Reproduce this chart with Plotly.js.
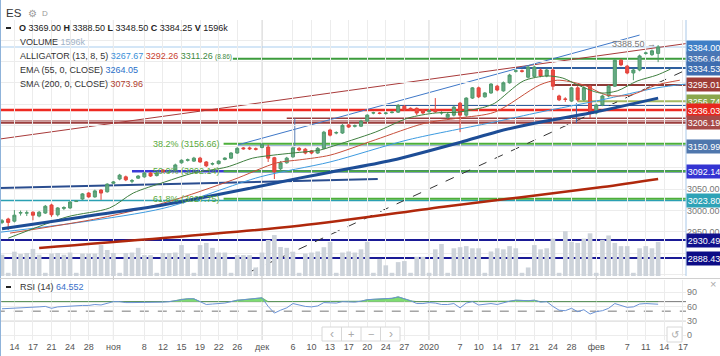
<!DOCTYPE html>
<html><head><meta charset="utf-8">
<script src="https://cdn.plot.ly/plotly-3.0.1.min.js"></script>
<style>html,body{margin:0;padding:0;background:#fff}#chart{width:720px;height:356px}</style>
</head><body><div id="chart"></div>
<script>
// ---------- DATA ----------
const openP  = [2972,2980,2975,2994,2994,2996,2987,2994,3013,2990,3005,3006,3021,3027,3041,3032,3048,3044,3064,3074,3079,3069,3076,3079,3088,3082,3095,3090,3095,3112,3118,3116,3123,3114,3109,3110,3120,3123,3135,3147,3147,3145,3148,3149,3124,3098,3112,3126,3146,3144,3140,3135,3146,3189,3182,3182,3201,3198,3198,3210,3229,3229,3228,3230,3231,3245,3240,3240,3236,3232,3236,3229,3219,3224,3252,3224,3264,3288,3267,3276,3292,3281,3300,3327,3328,3313,3315,3330,3316,3330,3269,3262,3257,3288,3260,3292,3229,3248,3269,3292,3353,3339,3323,3330,3369,3366,3369];
const highP  = [2980,2983,3001,3000,3000,2998,2999,3013,3016,3008,3010,3022,3024,3041,3043,3049,3050,3064,3069,3086,3082,3074,3083,3091,3090,3090,3097,3094,3110,3120,3122,3126,3126,3116,3113,3118,3125,3137,3149,3149,3150,3148,3158,3155,3126,3116,3126,3150,3149,3147,3142,3149,3187,3192,3186,3203,3203,3202,3213,3226,3232,3231,3231,3233,3250,3248,3242,3242,3238,3238,3264,3233,3229,3246,3255,3266,3290,3291,3278,3299,3295,3303,3321,3331,3331,3340,3340,3333,3333,3333,3272,3266,3290,3292,3292,3294,3251,3272,3295,3356,3356,3342,3333,3366,3373,3378,3388.5];
const lowP   = [2968,2954,2972,2988,2987,2977,2984,2992,2985,2986,3001,3004,3020,3025,3030,3030,3025,3042,3062,3071,3069,3064,3074,3077,3079,3080,3088,3087,3093,3110,3115,3114,3112,3102,3106,3108,3118,3121,3133,3143,3142,3141,3146,3114,3074,3093,3110,3124,3139,3132,3132,3133,3144,3174,3179,3180,3194,3195,3196,3208,3226,3226,3225,3228,3229,3233,3234,3224,3226,3230,3229,3225,3216,3221,3184,3220,3262,3264,3265,3274,3280,3279,3298,3324,3324,3310,3312,3313,3313,3283,3257,3255,3255,3256,3257,3217,3226,3245,3266,3290,3339,3320,3306,3327,3366,3363,3348.5];
const closeP = [2976,2972,2989,2995,2994.5,2989,2996,3010,2990,3006,3007,3020,3022,3039,3032,3046,3041,3062,3067,3083,3072,3070,3081,3088,3081,3088,3091,3091,3107,3118,3119,3123,3114,3105,3110,3116,3123,3135,3146,3145,3145,3144,3156,3123,3091,3112,3123,3147,3142,3135,3135,3146,3184,3177,3183,3200,3196,3199,3210,3224,3229.5,3228,3229,3231,3247,3236,3236,3229,3229,3235,3232,3230,3226,3243,3224,3264,3288,3267,3276,3297,3283,3300,3318,3328,3327,3337,3337,3316,3330,3292,3260,3261,3288,3260,3288,3229,3248,3269,3292,3353,3342,3323,3330,3363,3370,3375,3384.25];
const volumeK = [1000,150,1140,1030,1080,1270,1000,150,1050,1080,1000,1100,150,1050,1050,1050,1450,1220,1080,150,1080,1100,1320,980,980,150,1080,1080,1100,1450,1050,150,1450,1550,1320,1100,1100,150,980,980,980,400,1100,1690,1920,1360,1320,1140,150,1050,1100,1150,1350,1600,150,1100,1150,1100,1250,1600,150,800,500,150,650,700,150,900,900,150,1250,1500,150,1300,1350,1400,1300,1300,150,1150,1300,1250,1400,1300,150,400,1450,1250,1300,1750,150,2100,1600,1550,1750,2000,150,1700,1900,1550,1400,1400,150,1300,1400,1300,1596];
const rsi14 = [55,55.5,57,57.5,58,57.5,59,60,56,59,60,61,61,62,62,64,63,67,70,70,68,68,68,69,68,68,69,70,72,75,76,76,70,64,65,66,67,70,73,74,75,76,78,60,46,52,57,66,63,60,59,61,68,67,67,70,69,69,71,74,75,76,76,77,80,76,72,66,66,68,67,64,64,66,57,67,70,63,64,66,64,68,71,73,72,72,73,69,70,60,52,51,56,49,53,44,49,51,56,66,62,58,59,65,66,65,64.55];

// indicator lines (bar index, value) read at knots
const emaIdx = [0,13,26,40,48,53,63,74,80,86,95,106];
const emaVal = [2957,2985,3013,3052,3076,3090,3118,3160,3185,3205,3229,3264];
const smaIdx = [6,48,72,97,106];
const smaVal = [2912,2964,3010,3055,3074];
const lipsIdx = [1,10.5,17.4,21.2,26.3,30.9,36.3,40.5,43.8,47,51.4,53,60.3,65.6,70,73.7,78,79.6,84.2,88,90.6,93,96.6,99.4,102.6,105.8,108];
const lipsVal = [2935,2985,3006,3041,3067,3088,3102,3123,3130,3135,3142,3149,3184,3217,3229,3231,3243,3252,3304,3316,3311,3295,3276,3281,3304,3318,3332];
const teethIdx = [1.3,15.8,26.7,37.3,44.4,48.1,53,60.3,68.3,73.7,79.6,86.9,89.7,93.9,97.7,101.5,105.8,109.5];
const teethVal = [2947,2982,3020,3072,3112,3119,3130,3166,3205,3217,3231,3295,3306,3295,3271,3271,3295,3306];
const jawIdx = [-0.3,12.9,26.3,41.7,53,65.6,79.6,86.9,96.6,105.8,110.5];
const jawVal = [2949,2973,3006,3079,3114,3166,3208,3231,3259,3288,3297];

// x-axis ticks (bar index of each date label)
const tickIdx  = [2,5,8,11,14,18,23,26,29,32,35,38,42,47,50,53,56,59,62,65,69,74,77,80,83,86,89,92,96,101,104,107,110];
const tickText = ['14','17','21','24','28','ноя','8','12','15','19','22','26','дек','6','10','13','17','20','24','27','2020','7','10','14','17','21','24','28','фев','7','11','14','17'];
const monthText = ['ноя','дек','2020','фев'];

// labelled price levels
const levelVals  = [3384.00,3356.64,3334.53,3295.01,3256.74,3236.03,3206.19,3150.99,3092.14,3023.80,2930.49,2888.43];
const levelStart = [-0.3,37.3,83,89,93,-0.3,-0.3,38,21,-0.3,-0.3,-0.3];
// unlabelled drawn levels
const extraVals  = [3248,3216.6,3210.5];
const extraStart = [62,46,-0.3];
// Fibonacci
const fibText = ['38.2% (3156.66)','50.0% (3092.14)','61.8% (3027.75)'];
const fibVals = [3156.66,3092.14,3027.75];
// trend lines [idx0, price0, idx1, price1]
const trendRed   = [-0.3,3168,110.5,3392];
const trendBlue  = [38,3153.8,103,3412];
const trendDash  = [40,2855.6,110.5,3330];
const trendNavy  = [-0.3,3053,60.7,3074];
const vertA = [47.3,3216.6,3146.8];
const vertB = [92.8,3252,3205];

// header values
const hdr = {O:'3369.00',H:'3388.50',L:'3348.50',C:'3384.25',V:'1596k'};
const alligatorVals = ['3267.67','3292.26','3311.26'];
const alligatorSpread = '(8.86)';
const emaLast = '3264.05', smaLast = '3073.96', rsiLast = '64.552', volLast = '1596k';

// ---------- STYLES ----------
const W=720, H=356;
const PX = v => v/W, PY = v => 1 - v/H;
const FONT = 'Liberation Sans, Arial, sans-serif';
const levelLine = [
 ['#a9cdee',1],['#3c9c3c',2],['#2f5f9f',2],['#8e3a36',2],['#a3b860',2],['#ee2a22',2.5],
 ['#9b3e3e',2],['#3f6fb0',1.5],['#3a3ad6',2.5],['#2aa0b3',1.5],['#1a1a96',2],['#1a1a96',2]];
const boxColor = ['#3f7fc6','#4a76b4','#3e6db0','#9e3d38','#8aa64c','#e8271e','#a64a48','#4f77ad','#3434d2','#2ea2b6','#10108c','#0c0c86'];
const extraLine = [['#2f5f9f',2],['#9b3e3e',1.5],['#a85050',1]];

const idx = closeP.map((_,i)=>i);

const traces = [];
traces.push({type:'bar', x:idx, y:volumeK, yaxis:'y3', xaxis:'x', width:0.75,
  marker:{color:'#cdd3da'}, hoverinfo:'skip'});
function line(xs, ys, color, width){
  return {type:'scatter', mode:'lines', x:xs, y:ys, xaxis:'x', yaxis:'y',
    line:{color:color, width:width, shape:'spline', smoothing:0.8}, hoverinfo:'skip'};
}
traces.push(line(smaIdx, smaVal, '#b0280c', 2.5));
traces.push(line(jawIdx, jawVal, '#3d9be0', 1));
traces.push(line(teethIdx, teethVal, '#c8503c', 1));
traces.push(line(lipsIdx, lipsVal, '#3f7f3f', 1));
traces.push(line(emaIdx, emaVal, '#1d4d96', 3));
traces.push({type:'candlestick', x:idx, open:openP, high:highP, low:lowP, close:closeP,
  xaxis:'x', yaxis:'y',
  increasing:{line:{color:'#4f9a6c', width:1}, fillcolor:'#66aa84'},
  decreasing:{line:{color:'#e2433b', width:1}, fillcolor:'#ee4b43'},
  hoverinfo:'skip'});
// RSI
traces.push({type:'scatter', mode:'lines', x:idx, y:rsi14.map(()=>70), xaxis:'x', yaxis:'y2',
  line:{color:'rgba(0,0,0,0)', width:0}, hoverinfo:'skip'});
traces.push({type:'scatter', mode:'lines', x:idx, y:rsi14.map(v=>Math.max(v,70)), xaxis:'x', yaxis:'y2',
  fill:'tonexty', fillcolor:'#7fdc72', line:{color:'#3aa03a', width:0.6}, hoverinfo:'skip'});
traces.push({type:'scatter', mode:'lines', x:idx, y:rsi14, xaxis:'x', yaxis:'y2',
  line:{color:'#6b93d6', width:1}, hoverinfo:'skip'});

const shapes = [];
const ann = [];
function hline(x0, y, color, width, dash, yref){
  shapes.push({type:'line', xref:'x', yref:yref||'y', x0:x0, x1:111, y0:y, y1:y,
    line:{color:color, width:width, dash:dash||'solid'}, layer:'below'});
}
levelVals.forEach((v,i)=>hline(levelStart[i], v, levelLine[i][0], levelLine[i][1]));
extraVals.forEach((v,i)=>hline(extraStart[i], v, extraLine[i][0], extraLine[i][1]));
fibVals.forEach(v=>hline(35.8, v, '#4caf3a', 2));
function seg(a, color, width, dash){
  shapes.push({type:'line', xref:'x', yref:'y', x0:a[0], y0:a[1], x1:a[2], y1:a[3],
    line:{color:color, width:width, dash:dash||'solid'}, layer:'below'});
}
seg(trendRed, '#a83a3a', 1);
seg(trendBlue, '#3f78c8', 1);
seg(trendDash, '#333333', 1, 'dash');
seg(trendNavy, '#2a4d8f', 2);
seg([vertA[0],vertA[1],vertA[0],vertA[2]], '#5b7fb5', 1);
seg([vertB[0],vertB[1],vertB[0],vertB[2]], '#3a6ab0', 1);
// month separators
monthText.forEach(m=>{
  const i = tickIdx[tickText.indexOf(m)];
  shapes.push({type:'line', xref:'x', yref:'paper', x0:i, x1:i, y0:PY(340), y1:PY(20),
    line:{color:'#c4c4c4', width:1}, layer:'below'});
});
// RSI levels
[[70,'solid'],[50,'dash'],[30,'solid']].forEach(l=>{
  shapes.push({type:'line', xref:'x', yref:'y2', x0:-1, x1:111, y0:l[0], y1:l[0],
    line:{color:'#777', width:1, dash:l[1]}, layer:'below'});
});
// frame lines
shapes.push({type:'line', xref:'paper', yref:'paper', x0:PX(0.5), x1:PX(0.5), y0:0, y1:1, line:{color:'#8fb3da', width:1}});
shapes.push({type:'line', xref:'paper', yref:'paper', x0:PX(686), x1:PX(686), y0:PY(276), y1:PY(20), line:{color:'#a9c8e8', width:1}});
shapes.push({type:'line', xref:'paper', yref:'paper', x0:0, x1:1, y0:PY(278.5), y1:PY(278.5), line:{color:'#d0d0d0', width:1}});
// small dashed marker in price column
shapes.push({type:'line', xref:'paper', yref:'y', x0:PX(688), x1:PX(717), y0:3309, y1:3309, line:{color:'#c0504d', width:1, dash:'dash'}});
// nav buttons
shapes.push({type:'rect', xref:'paper', yref:'paper', x0:PX(322), x1:PX(400), y0:PY(341), y1:PY(327), line:{color:'#d8d8d8', width:1}, fillcolor:'#fff'});
[341.5,361,380.5].forEach(x=>shapes.push({type:'line', xref:'paper', yref:'paper', x0:PX(x), x1:PX(x), y0:PY(341), y1:PY(327), line:{color:'#d8d8d8', width:1}}));
shapes.push({type:'rect', xref:'paper', yref:'paper', x0:PX(667), x1:PX(682), y0:PY(342), y1:PY(327), line:{color:'#d8d8d8', width:1}, fillcolor:'#fff'});
// legend dash icons
[28,287].forEach(y=>shapes.push({type:'rect', xref:'paper', yref:'paper', x0:PX(6), x1:PX(11), y0:PY(y+1), y1:PY(y-1), line:{width:0}, fillcolor:'#222'}));

function txt(x, y, text, size, color, anchor, extra){
  ann.push(Object.assign({xref:'paper', yref:'paper', x:PX(x), y:PY(y), text:text, showarrow:false,
    xanchor:anchor||'left', yanchor:'middle', font:{family:FONT, size:size, color:color}}, extra||{}));
}
// price boxes
levelVals.forEach((v,i)=>{
  ann.push({xref:'paper', yref:'y', x:PX(686), y:v, xanchor:'left', yanchor:'middle', showarrow:false,
    text:v.toFixed(2), bgcolor:boxColor[i], width:32, height:11, borderpad:1, align:'center',
    font:{family:FONT, size:9, color:'#fff'}});
});
// fib labels
fibVals.forEach((v,i)=>{
  ann.push({xref:'x', yref:'y', x:35.6, y:v, xanchor:'right', yanchor:'middle', showarrow:false,
    text:fibText[i], font:{family:FONT, size:9, color:'#5aab3c'}});
});
// high marker
ann.push({xref:'x', yref:'y', x:106, y:3391.5, xanchor:'right', yanchor:'middle', showarrow:false,
  text:hdr.H + ' →', font:{family:FONT, size:9, color:'#777'}});
// header
txt(4, 13, 'ES', 11.5, '#333');
txt(26, 13, '⚙', 10, '#999');
txt(40, 14, 'D', 8, '#999');
txt(17, 28, '<b>O</b> '+hdr.O+' <b>H</b> '+hdr.H+' <b>L</b> '+hdr.L+' <b>C</b> '+hdr.C+' <b>V</b> '+hdr.V, 9, '#222');
txt(18, 42, 'VOLUME <span style="color:#9fb3c8">'+volLast+'</span>', 9, '#333');
txt(18, 56, 'ALLIGATOR (13, 8, 5) <span style="color:#3a8fd8">'+alligatorVals[0]+'</span> <span style="color:#c8412f">'+alligatorVals[1]+'</span> <span style="color:#3f8a3f">'+alligatorVals[2]+'</span>', 9, '#333');
txt(213, 57, alligatorSpread, 6.5, '#3f8a3f');
txt(18, 70, 'EMA (55, 0, CLOSE) <span style="color:#2a6fc9">'+emaLast+'</span>', 9, '#333');
txt(18, 84, 'SMA (200, 0, CLOSE) <span style="color:#b0402e">'+smaLast+'</span>', 9, '#333');
txt(18, 287, 'RSI (14) <span style="color:#3a6fc9">'+rsiLast+'</span>', 9, '#333');
txt(713, 284, '×', 11, '#aaa', 'center');
txt(331.5, 334, '‹', 12, '#aaa', 'center');
txt(351, 334, '+', 11, '#aaa', 'center');
txt(371, 334, '−', 11, '#aaa', 'center');
txt(390.5, 334, '›', 12, '#aaa', 'center');
txt(674.5, 334.5, '↺', 10, '#aaa', 'center');

const priceTicks = [3400,3350,3300,3250,3200,3150,3100,3050,3000,2950,2900,2850];
const shownTicks = [3050,3000,2950];

const layout = {
  width:W, height:H, margin:{l:0,r:0,t:0,b:0}, showlegend:false,
  paper_bgcolor:'#fff', plot_bgcolor:'#fff', font:{family:FONT},
  xaxis:{domain:[0, 686/W], range:[-0.323, 110.5], anchor:'y2', tickmode:'array',
    tickvals:tickIdx, ticktext:tickText, tickfont:{size:9, color:'#555'},
    showgrid:true, gridcolor:'#ececec', zeroline:false, showline:false, ticks:'',
    rangeslider:{visible:false}, fixedrange:true},
  yaxis:{domain:[PY(276), PY(20)], range:[2846.2, 3447.4], side:'right', anchor:'x',
    tickmode:'array', tickvals:priceTicks,
    ticktext:priceTicks.map(v=> shownTicks.includes(v) ? v.toFixed(2) : ''),
    tickfont:{size:9, color:'#777'}, showgrid:true, gridcolor:'#ececec', zeroline:false, ticks:'', fixedrange:true},
  yaxis3:{overlaying:'y', range:[0,12000], visible:false, fixedrange:true},
  yaxis2:{domain:[PY(340), PY(280)], range:[-10.5,115.4], side:'right', anchor:'x',
    tickmode:'array', tickvals:[0,30,60,90], tickfont:{size:9, color:'#777'},
    showgrid:true, gridcolor:'#ececec', zeroline:false, ticks:'', fixedrange:true},
  shapes:shapes, annotations:ann
};
Plotly.newPlot('chart', traces, layout, {staticPlot:true, displayModeBar:false});
</script></body></html>
